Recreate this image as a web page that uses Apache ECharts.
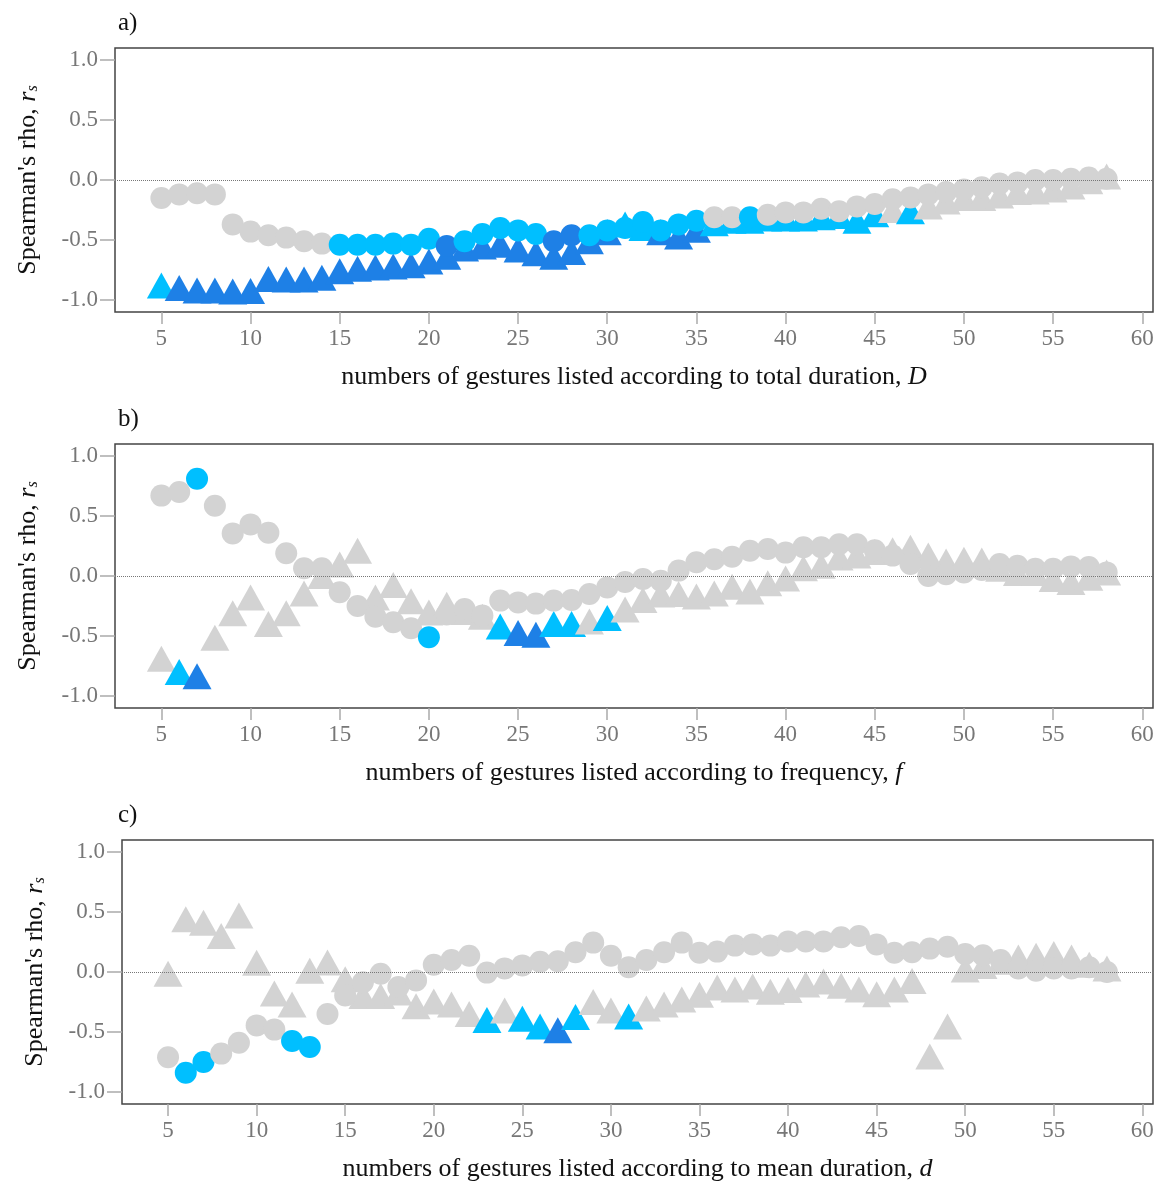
<!DOCTYPE html>
<html>
<head>
<meta charset="utf-8">
<script src="https://cdn.jsdelivr.net/npm/echarts@6/dist/echarts.min.js"></script>
<style>
  html, body { margin: 0; background: #fff; }
  #chart { width: 1165px; height: 1187px; }
</style>
</head>
<body>
<div id="chart"></div>
<script>
// numbers of gestures on the x axis
const gestureCounts = [5, 6, 7, 8, 9, 10, 11, 12, 13, 14, 15, 16, 17, 18, 19, 20, 21, 22, 23, 24, 25, 26, 27, 28, 29, 30,
  31, 32, 33, 34, 35, 36, 37, 38, 39, 40, 41, 42, 43, 44, 45, 46, 47, 48, 49, 50, 51, 52, 53, 54, 55, 56, 57, 58];
const xTicks = [5, 10, 15, 20, 25, 30, 35, 40, 45, 50, 55, 60];
const yTicks = [-1.0, -0.5, 0.0, 0.5, 1.0];

// significance: 0 = not significant, 1 = significant, 2 = highly significant
// a) total duration, D
const totalCircles = [-0.15, -0.12, -0.11, -0.12, -0.37, -0.43, -0.46, -0.48, -0.51, -0.53, -0.54, -0.54, -0.54, -0.53, -0.54, -0.49,
  -0.55, -0.51, -0.45, -0.40, -0.42, -0.45, -0.51, -0.46, -0.46, -0.42, -0.40, -0.35, -0.42, -0.37, -0.34, -0.31, -0.31, -0.31,
  -0.29, -0.27, -0.27, -0.24, -0.26, -0.22, -0.20, -0.16, -0.145, -0.12, -0.10, -0.08, -0.06, -0.03, -0.02, 0.0, 0.0, 0.01, 0.02, 0.01];
const totalCircleSig = [0, 0, 0, 0, 0, 0, 0, 0, 0, 0, 1, 1, 1, 1, 1, 1, 2, 1, 1, 1, 1, 1, 2, 2, 1, 1, 1, 1, 1, 1, 1, 0, 0, 1,
  0, 0, 0, 0, 0, 0, 0, 0, 0, 0, 0, 0, 0, 0, 0, 0, 0, 0, 0, 0];
const totalTriangles = [-0.88, -0.90, -0.92, -0.92, -0.93, -0.925, -0.825, -0.83, -0.83, -0.815, -0.76, -0.74, -0.73, -0.72, -0.71, -0.68,
  -0.64, -0.57, -0.555, -0.54, -0.58, -0.61, -0.64, -0.60, -0.51, -0.435, -0.37, -0.40, -0.435, -0.47, -0.415, -0.36, -0.34, -0.34,
  -0.32, -0.32, -0.32, -0.31, -0.30, -0.34, -0.285, -0.25, -0.26, -0.22, -0.18, -0.15, -0.15, -0.13, -0.10, -0.095, -0.08, -0.055, -0.01, 0.03];
const totalTriangleSig = [1, 2, 2, 2, 2, 2, 2, 2, 2, 2, 2, 2, 2, 2, 2, 2, 2, 2, 2, 2, 2, 2, 2, 2, 2, 2, 1, 1, 2, 2, 2, 1, 1, 1,
  1, 1, 1, 1, 1, 1, 1, 0, 1, 0, 0, 0, 0, 0, 0, 0, 0, 0, 0, 0];

// b) frequency, f
const freqCircles = [0.67, 0.70, 0.81, 0.585, 0.355, 0.43, 0.36, 0.19, 0.065, 0.065, -0.135, -0.25, -0.34, -0.385, -0.435, -0.51,
  -0.32, -0.275, -0.33, -0.205, -0.22, -0.23, -0.205, -0.20, -0.15, -0.095, -0.05, -0.025, -0.04, 0.045, 0.115, 0.14, 0.16, 0.21,
  0.225, 0.195, 0.24, 0.24, 0.265, 0.265, 0.215, 0.17, 0.10, 0.0, 0.015, 0.03, 0.05, 0.10, 0.085, 0.06, 0.06, 0.08, 0.075, 0.03];
const freqCircleSig = [0, 0, 1, 0, 0, 0, 0, 0, 0, 0, 0, 0, 0, 0, 0, 1, 0, 0, 0, 0, 0, 0, 0, 0, 0, 0, 0, 0, 0, 0, 0, 0, 0, 0,
  0, 0, 0, 0, 0, 0, 0, 0, 0, 0, 0, 0, 0, 0, 0, 0, 0, 0, 0, 0];
const freqTriangles = [-0.69, -0.80, -0.835, -0.515, -0.31, -0.18, -0.40, -0.31, -0.145, 0.0, 0.095, 0.21, -0.18, -0.075, -0.21, -0.305,
  -0.24, -0.30, -0.34, -0.42, -0.475, -0.49, -0.40, -0.40, -0.38, -0.35, -0.28, -0.20, -0.155, -0.15, -0.17, -0.145, -0.09, -0.13,
  -0.06, -0.02, 0.065, 0.085, 0.155, 0.17, 0.20, 0.215, 0.235, 0.17, 0.12, 0.135, 0.13, 0.06, 0.025, 0.025, -0.025, -0.05, -0.015, 0.03];
const freqTriangleSig = [0, 1, 2, 0, 0, 0, 0, 0, 0, 0, 0, 0, 0, 0, 0, 0, 0, 0, 0, 1, 2, 2, 1, 1, 0, 1, 0, 0, 0, 0, 0, 0, 0, 0,
  0, 0, 0, 0, 0, 0, 0, 0, 0, 0, 0, 0, 0, 0, 0, 0, 0, 0, 0, 0];

// c) mean duration, d
const meanCircles = [-0.71, -0.84, -0.75, -0.68, -0.59, -0.445, -0.48, -0.575, -0.625, -0.35, -0.195, -0.085, -0.015, -0.125, -0.07, 0.06,
  0.10, 0.135, -0.005, 0.03, 0.055, 0.085, 0.09, 0.165, 0.245, 0.135, 0.04, 0.10, 0.165, 0.245, 0.16, 0.17, 0.22, 0.23,
  0.22, 0.255, 0.255, 0.255, 0.29, 0.30, 0.23, 0.16, 0.165, 0.195, 0.21, 0.15, 0.14, 0.10, 0.03, 0.01, 0.03, 0.03, 0.04, 0.0];
const meanCircleSig = [0, 1, 1, 0, 0, 0, 0, 1, 1, 0, 0, 0, 0, 0, 0, 0, 0, 0, 0, 0, 0, 0, 0, 0, 0, 0, 0, 0, 0, 0, 0, 0, 0, 0,
  0, 0, 0, 0, 0, 0, 0, 0, 0, 0, 0, 0, 0, 0, 0, 0, 0, 0, 0, 0];
const meanTriangles = [-0.015, 0.44, 0.41, 0.30, 0.47, 0.077, -0.18, -0.27, 0.01, 0.08, -0.06, -0.20, -0.20, -0.17, -0.285, -0.245,
  -0.27, -0.35, -0.40, -0.32, -0.39, -0.455, -0.485, -0.375, -0.25, -0.32, -0.37, -0.305, -0.27, -0.23, -0.19, -0.13, -0.145, -0.12,
  -0.165, -0.15, -0.105, -0.08, -0.115, -0.145, -0.185, -0.145, -0.075, -0.705, -0.455, 0.02, 0.05, 0.085, 0.12, 0.135, 0.15, 0.12, 0.06, 0.03];
const meanTriangleSig = [0, 0, 0, 0, 0, 0, 0, 0, 0, 0, 0, 0, 0, 0, 0, 0, 0, 0, 1, 0, 1, 1, 2, 1, 0, 0, 1, 0, 0, 0, 0, 0, 0, 0,
  0, 0, 0, 0, 0, 0, 0, 0, 0, 0, 0, 0, 0, 0, 0, 0, 0, 0, 0, 0];

const sigColors = ["#d3d3d3", "#00bfff", "#1e80e6"];
const serif = "'Liberation Serif', 'Times New Roman', serif";

const panels = [
  { label: "a)", top: 48, left: 115, xName: "numbers of gestures listed according to total duration, {i|D}",
    circles: totalCircles, circleSig: totalCircleSig, triangles: totalTriangles, triangleSig: totalTriangleSig },
  { label: "b)", top: 444, left: 115, xName: "numbers of gestures listed according to frequency, {i|f}",
    circles: freqCircles, circleSig: freqCircleSig, triangles: freqTriangles, triangleSig: freqTriangleSig },
  { label: "c)", top: 840, left: 122, xName: "numbers of gestures listed according to mean duration, {i|d}",
    circles: meanCircles, circleSig: meanCircleSig, triangles: meanTriangles, triangleSig: meanTriangleSig }
];

const points = (values, sig) => values.map((v, i) => ({
  value: [gestureCounts[i], v],
  itemStyle: { color: sigColors[sig[i]] }
}));

const chart = echarts.init(document.getElementById("chart"));

chart.setOption({
  backgroundColor: "#fff",
  animation: false,
  title: panels.map(p => ({
    text: p.label,
    left: 113,
    top: p.top - 42,
    textStyle: { fontFamily: serif, fontSize: 25, fontWeight: "normal", color: "#111" }
  })),
  grid: panels.map(p => ({
    left: p.left,
    right: 12,
    top: p.top,
    height: 264,
    show: true,
    borderColor: "#444",
    borderWidth: 1.5
  })),
  xAxis: panels.map((p, i) => ({
    type: "value",
    gridIndex: i,
    min: 2.4,
    max: 60.6,
    axisLine: { show: false, onZero: false },
    axisTick: { show: true, length: 12, customValues: xTicks, lineStyle: { color: "#aaa", width: 1.5 } },
    axisLabel: { customValues: xTicks, margin: 15, fontFamily: serif, fontSize: 23, color: "#777" },
    splitLine: { show: false },
    name: p.xName,
    nameLocation: "middle",
    nameGap: 52,
    nameTextStyle: {
      fontFamily: serif, fontSize: 26, color: "#111",
      rich: { i: { fontFamily: serif, fontSize: 26, fontStyle: "italic", color: "#111" } }
    }
  })),
  yAxis: panels.map((p, i) => ({
    type: "value",
    gridIndex: i,
    min: -1.1,
    max: 1.1,
    axisLine: { show: false, onZero: false },
    axisTick: { show: true, length: 15, customValues: yTicks, lineStyle: { color: "#aaa", width: 1.5 } },
    axisLabel: {
      customValues: yTicks, margin: 17, fontFamily: serif, fontSize: 23, color: "#777",
      formatter: v => v.toFixed(1)
    },
    splitLine: { show: false },
    name: "Spearman's rho, {i|r}{s|s}",
    nameLocation: "middle",
    nameGap: 74,
    nameTextStyle: {
      fontFamily: serif, fontSize: 26, color: "#111",
      rich: {
        i: { fontFamily: serif, fontSize: 26, fontStyle: "italic", color: "#111" },
        s: { fontFamily: serif, fontSize: 16, fontStyle: "italic", color: "#111", verticalAlign: "bottom", padding: [10, 0, 0, 0] }
      }
    }
  })),
  series: panels.flatMap((p, i) => [
    {
      type: "scatter",
      xAxisIndex: i,
      yAxisIndex: i,
      symbol: "triangle",
      symbolSize: [29, 26],
      itemStyle: { opacity: 1 },
      data: points(p.triangles, p.triangleSig),
      emphasis: { disabled: true },
      markLine: {
        silent: true,
        symbol: "none",
        label: { show: false },
        lineStyle: { type: "dotted", color: "#777", width: 1 },
        data: [{ yAxis: 0 }]
      }
    },
    {
      type: "scatter",
      xAxisIndex: i,
      yAxisIndex: i,
      symbol: "circle",
      symbolSize: 22,
      itemStyle: { opacity: 1 },
      data: points(p.circles, p.circleSig),
      emphasis: { disabled: true }
    }
  ])
});
</script>
</body>
</html>
